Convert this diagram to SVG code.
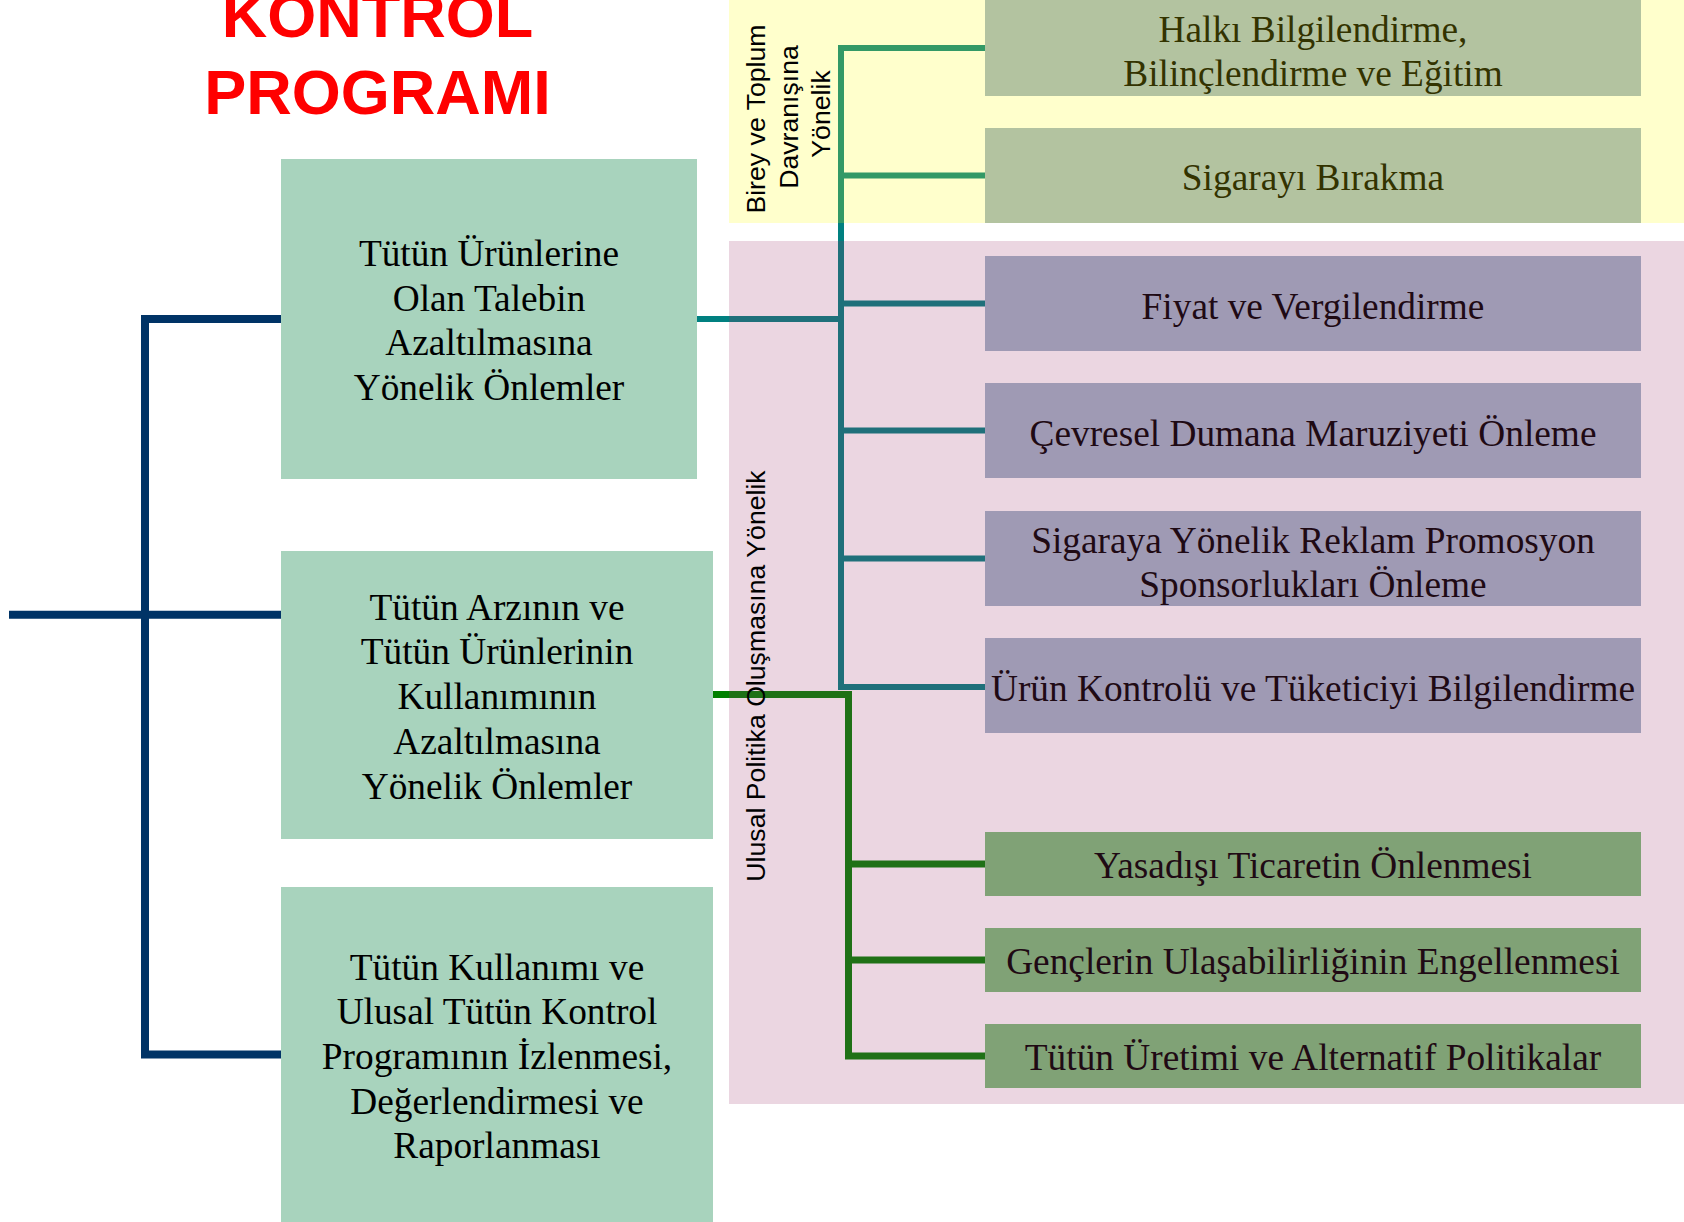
<svg xmlns="http://www.w3.org/2000/svg" width="1684" height="1222" viewBox="0 0 1684 1222">
<style>
.title{font-family:"Liberation Sans",Arial,sans-serif;font-weight:bold;font-size:63px;fill:#FF0000;text-anchor:middle}
.side{font-family:"Liberation Sans",Arial,sans-serif;font-size:26.67px;fill:#000;text-anchor:middle}
.t{font-family:"Liberation Serif","Times New Roman",serif;font-size:37.33px;text-anchor:middle}
.main rect{fill:#A8D3BD}
.main text{fill:#000}
.yel rect{fill:#B3C3A0}
.yel text{fill:#333300}
.pur rect{fill:#9F9AB4}
.pur text{fill:#1F0A14}
.grn rect{fill:#80A276}
.grn text{fill:#1F0A14}
.ln{fill:none;stroke-linejoin:miter;stroke-linecap:butt}
.navy{stroke:#003366;stroke-width:8}
.tealW{stroke:#008080;stroke-width:6}
.tealY{stroke:#339966;stroke-width:6}
.tealP{stroke:#1F707A;stroke-width:6}
.grnW{stroke:#008000;stroke-width:7}
.grnP{stroke:#1F7116;stroke-width:7}
</style>
<rect x="0" y="0" width="1684" height="1222" fill="#FFFFFF"/>
<g id="panels">
<rect id="panel-birey" x="729" y="0" width="955" height="223" fill="#FFFFCC"/>
<rect id="panel-ulusal" x="729" y="241" width="955" height="863" fill="#EBD6E1"/>
</g>
<g id="title">
<text class="title" x="377.5" y="37">KONTROL</text>
<text class="title" x="377.5" y="114">PROGRAMI</text>
</g>
<g id="connectors" class="ln">
<path class="navy" d="M9,614.7 H281"/>
<path class="navy" d="M281,319 H145 V1054.5 H281"/>
<path class="tealW" d="M697,319 H729"/>
<path class="tealP" d="M729,319 H841"/>
<path class="tealY" d="M985,48 H841 V223"/>
<path class="tealY" d="M841,175.5 H985"/>
<path class="tealW" d="M841,223 V241"/>
<path class="tealP" d="M841,241 V687 H985"/>
<path class="tealP" d="M841,303.5 H985"/>
<path class="tealP" d="M841,430.5 H985"/>
<path class="tealP" d="M841,558.5 H985"/>
<path class="grnW" d="M713,694.5 H729"/>
<path class="grnP" d="M729,694.5 H848.5 V1056 H985"/>
<path class="grnP" d="M848.5,864 H985"/>
<path class="grnP" d="M848.5,960 H985"/>
</g>
<g id="label-birey">
<text class="side" transform="translate(765,119) rotate(-90)">Birey ve Toplum</text>
<text class="side" transform="translate(798,117) rotate(-90)">Davranışına</text>
<text class="side" transform="translate(830,114) rotate(-90)">Yönelik</text>
</g>
<g id="label-ulusal">
<text class="side" transform="translate(765,676) rotate(-90)">Ulusal Politika Oluşmasına Yönelik</text>
</g>
<g id="node-talep" class="main">
<rect x="281" y="159" width="416" height="320"/>
<text class="t" x="489"><tspan x="489" y="265.5">Tütün Ürünlerine</tspan><tspan x="489" y="310.5">Olan Talebin</tspan><tspan x="489" y="355.2">Azaltılmasına</tspan><tspan x="489" y="399.8">Yönelik Önlemler</tspan></text>
</g>
<g id="node-arz" class="main">
<rect x="281" y="551" width="432" height="288"/>
<text class="t" x="497"><tspan x="497" y="619.5">Tütün Arzının ve</tspan><tspan x="497" y="664.3">Tütün Ürünlerinin</tspan><tspan x="497" y="709">Kullanımının</tspan><tspan x="497" y="753.8">Azaltılmasına</tspan><tspan x="497" y="798.5">Yönelik Önlemler</tspan></text>
</g>
<g id="node-izleme" class="main">
<rect x="281" y="887" width="432" height="335"/>
<text class="t" x="497"><tspan x="497" y="979.5">Tütün Kullanımı ve</tspan><tspan x="497" y="1024.2">Ulusal Tütün Kontrol</tspan><tspan x="497" y="1069">Programının İzlenmesi,</tspan><tspan x="497" y="1113.7">Değerlendirmesi ve</tspan><tspan x="497" y="1158.4">Raporlanması</tspan></text>
</g>
<g id="node-halki" class="yel">
<rect x="985" y="0" width="656" height="96"/>
<text class="t" x="1313"><tspan x="1313" y="41.5">Halkı Bilgilendirme,</tspan><tspan x="1313" y="86">Bilinçlendirme ve Eğitim</tspan></text>
</g>
<g id="node-birakma" class="yel">
<rect x="985" y="128" width="656" height="95"/>
<text class="t" x="1313" y="190">Sigarayı Bırakma</text>
</g>
<g id="node-fiyat" class="pur">
<rect x="985" y="256" width="656" height="95"/>
<text class="t" x="1313" y="318.5">Fiyat ve Vergilendirme</text>
</g>
<g id="node-cevresel" class="pur">
<rect x="985" y="383" width="656" height="95"/>
<text class="t" x="1313" y="445.5">Çevresel Dumana Maruziyeti Önleme</text>
</g>
<g id="node-reklam" class="pur">
<rect x="985" y="511" width="656" height="95"/>
<text class="t" x="1313"><tspan x="1313" y="552.5">Sigaraya Yönelik Reklam Promosyon</tspan><tspan x="1313" y="597">Sponsorlukları Önleme</tspan></text>
</g>
<g id="node-urun" class="pur">
<rect x="985" y="638" width="656" height="95"/>
<text class="t" x="1313" y="700.5">Ürün Kontrolü ve Tüketiciyi Bilgilendirme</text>
</g>
<g id="node-yasadisi" class="grn">
<rect x="985" y="832" width="656" height="64"/>
<text class="t" x="1313" y="878">Yasadışı Ticaretin Önlenmesi</text>
</g>
<g id="node-gencler" class="grn">
<rect x="985" y="928" width="656" height="64"/>
<text class="t" x="1313" y="974">Gençlerin Ulaşabilirliğinin Engellenmesi</text>
</g>
<g id="node-uretim" class="grn">
<rect x="985" y="1024" width="656" height="64"/>
<text class="t" x="1313" y="1070">Tütün Üretimi ve Alternatif Politikalar</text>
</g>
</svg>
